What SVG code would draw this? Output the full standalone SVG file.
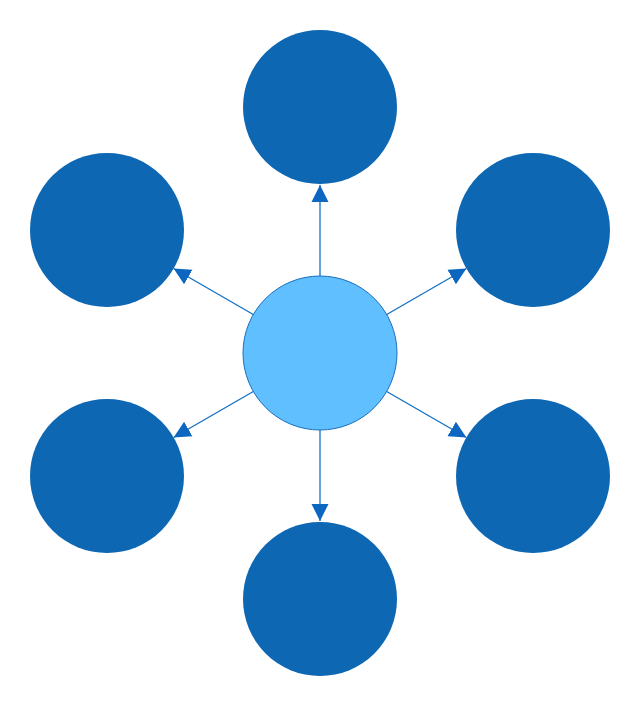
<svg xmlns="http://www.w3.org/2000/svg" width="640" height="705" viewBox="0 0 640 705">
<style>
.outer{fill:#0d67b3;}
.center{fill:#5fbfff;stroke:#1c6fbe;stroke-width:1;}
.conn{stroke:#1270c4;stroke-width:1.3;fill:none;marker-end:url(#ah);}
</style>
<defs>
<marker id="ah" markerUnits="userSpaceOnUse" markerWidth="18" markerHeight="18" viewBox="0 0 18 18" refX="17" refY="9" orient="auto">
<path d="M0,0.5 L17,9 L0,17.5 Z" fill="#0d67c0"/>
</marker>
</defs>
<rect width="640" height="705" fill="#ffffff"/>
<g id="connectors">
<line class="conn" x1="320" y1="276" x2="320" y2="185"/>
<line class="conn" x1="320" y1="430" x2="320" y2="521"/>
<line class="conn" x1="253.3" y1="314.5" x2="173.6" y2="268.5"/>
<line class="conn" x1="386.7" y1="314.5" x2="466.4" y2="268.5"/>
<line class="conn" x1="253.3" y1="391.5" x2="173.6" y2="437.5"/>
<line class="conn" x1="386.7" y1="391.5" x2="466.4" y2="437.5"/>
</g>
<g id="node-top"><circle class="outer" cx="320" cy="107" r="77"/></g>
<g id="node-upper-left"><circle class="outer" cx="107" cy="230" r="77"/></g>
<g id="node-upper-right"><circle class="outer" cx="533" cy="230" r="77"/></g>
<g id="node-lower-left"><circle class="outer" cx="107" cy="476" r="77"/></g>
<g id="node-lower-right"><circle class="outer" cx="533" cy="476" r="77"/></g>
<g id="node-bottom"><circle class="outer" cx="320" cy="599" r="77"/></g>
<g id="node-center"><circle class="center" cx="320" cy="353" r="77"/></g>
</svg>
